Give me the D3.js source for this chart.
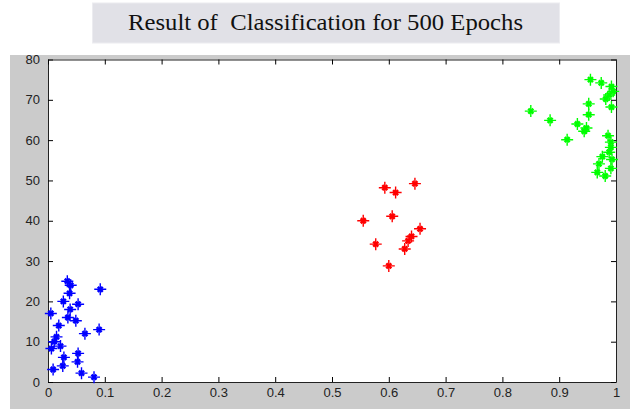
<!DOCTYPE html>
<html>
<head>
<style>
body {margin: 0; background: #fff;}
</style>
<script src="https://cdnjs.cloudflare.com/ajax/libs/d3/7.8.5/d3.min.js"></script>
</head>
<body>
<div id="chart-container"></div>
<script>
    // cluster data: [x, y]
    const blueX = [0.034, 0.040, 0.038, 0.092, 0.027, 0.053, 0.039, 0.005, 0.035, 0.049, 0.019, 0.090, 0.065, 0.015, 0.011, 0.022, 0.006, 0.028, 0.053, 0.052, 0.026, 0.009, 0.059, 0.081];
    const blueY = [25, 24, 22, 23, 20, 19.3, 18, 17, 16, 15.2, 14, 13, 12, 11.2, 10, 8.9, 8.3, 6.1, 7.1, 5, 4, 3.1, 2.2, 1.2];
    const redX = [0.593, 0.612, 0.646, 0.606, 0.577, 0.655, 0.640, 0.634, 0.628, 0.600, 0.555];
    const redY = [48.2, 47, 49.2, 41.1, 34.2, 38, 36.1, 35, 33, 28.8, 40];
    const greenX = [0.955, 0.974, 0.992, 0.995, 0.988, 0.982, 0.952, 0.992, 0.850, 0.884, 0.952, 0.932, 0.948, 0.944, 0.914, 0.986, 0.991, 0.991, 0.988, 0.976, 0.993, 0.970, 0.991, 0.967, 0.981];
    const greenY = [75, 74.2, 73.3, 72.1, 71.2, 70.2, 69, 68.2, 67.2, 64.9, 66.3, 64, 63, 62.2, 60.1, 61.1, 59.5, 58.2, 57, 55.9, 55.2, 54.1, 53, 52, 51.1];
    const xTicks = [0, 0.1, 0.2, 0.3, 0.4, 0.5, 0.6, 0.7, 0.8, 0.9, 1];
    const yTicks = [0, 10, 20, 30, 40, 50, 60, 70, 80];
    const title = "Result of  Classification for 500 Epochs";

    const W = 630, H = 409;
    const svg = d3.select("#chart-container")
        .append("svg")
        .attr("width", W)
        .attr("height", H);

    // title box
    svg.append("rect")
        .attr("x", 92.5).attr("y", 3)
        .attr("width", 467).attr("height", 40)
        .attr("fill", "#e1e1e7")
        .attr("stroke", "#ececf0");
    svg.append("text")
        .attr("x", 128).attr("y", 30)
        .attr("textLength", 395)
        .attr("lengthAdjust", "spacingAndGlyphs")
        .style("white-space", "pre")
        .style("font-family", "'Liberation Serif', serif")
        .style("font-size", "23px")
        .attr("fill", "#111")
        .text(title);

    // gray figure background
    svg.append("defs").append("clipPath").attr("id", "fig")
        .append("rect").attr("x", 10).attr("y", 55).attr("width", W - 10).attr("height", H - 55);
    const fig = svg.append("g").attr("clip-path", "url(#fig)");
    fig.append("rect")
        .attr("x", 10).attr("y", 55)
        .attr("width", W - 10).attr("height", H - 55)
        .attr("fill", "#cbcbcb");

    const x = d3.scaleLinear().domain([0, 1]).range([48, 616]);
    const y = d3.scaleLinear().domain([0, 80]).range([382, 59.5]);

    fig.append("rect")
        .attr("x", x(0)).attr("y", y(80))
        .attr("width", x(1) - x(0)).attr("height", y(0) - y(80))
        .attr("fill", "#fff");

    const tickFont = g => g.selectAll("text")
        .style("font-family", "Arial, 'Liberation Sans', sans-serif")
        .style("font-size", "13px")
        .attr("fill", "#222");

    // bottom / left axes with inward ticks
    fig.append("g")
        .attr("transform", `translate(0,${y(0)})`)
        .call(d3.axisBottom(x).tickValues(xTicks).tickFormat(d3.format("")).tickSizeInner(-5).tickSizeOuter(0).tickPadding(6))
        .call(tickFont)
        .call(g => g.select(".domain").attr("stroke", "#222"));
    fig.append("g")
        .attr("transform", `translate(${x(0)},0)`)
        .call(d3.axisLeft(y).tickValues(yTicks).tickSizeInner(-5).tickSizeOuter(0).tickPadding(8))
        .call(tickFont)
        .call(g => g.select(".domain").attr("stroke", "#222"));
    // mirrored top / right
    fig.append("g")
        .attr("transform", `translate(0,${y(80)})`)
        .call(d3.axisTop(x).tickValues(xTicks).tickFormat("").tickSizeInner(-5).tickSizeOuter(0))
        .call(g => g.select(".domain").attr("stroke", "#222"));
    fig.append("g")
        .attr("transform", `translate(${x(1)},0)`)
        .call(d3.axisRight(y).tickValues(yTicks).tickFormat("").tickSizeInner(-5).tickSizeOuter(0))
        .call(g => g.select(".domain").attr("stroke", "#222"));

    // '*' markers: a plus with faint short diagonals
    const plus = "M-6,0H6M0,-6V6";
    const diag = "M-2.5,-2.5L2.5,2.5M-2.5,2.5L2.5,-2.5";
    const series = [
        {xs: blueX, ys: blueY, color: "#0000ff"},
        {xs: redX, ys: redY, color: "#ff0000"},
        {xs: greenX, ys: greenY, color: "#00ff00"}
    ];
    series.forEach(function(s) {
        const pts = fig.append("g")
            .selectAll("g")
            .data(s.xs.map((v, i) => [v, s.ys[i]]))
            .join("g")
            .attr("transform", d => `translate(${x(d[0])},${y(d[1])})`);
        pts.append("path")
            .attr("d", plus)
            .attr("stroke", s.color)
            .attr("stroke-width", 1.4);
        pts.append("path")
            .attr("d", diag)
            .attr("stroke", s.color)
            .attr("stroke-width", 2.5);
    });
</script>
</body>
</html>
